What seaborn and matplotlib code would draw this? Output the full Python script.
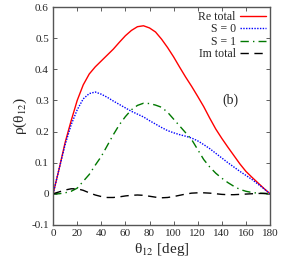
import numpy as np
import pandas as pd
import seaborn as sns
import matplotlib.pyplot as plt

theta = list(range(0, 181, 5))
re_total = [0, 0.08, 0.165, 0.235, 0.30, 0.35, 0.385, 0.408, 0.427, 0.446, 0.465, 0.487,
            0.508, 0.525, 0.537, 0.54, 0.533, 0.52, 0.497, 0.47, 0.44, 0.407, 0.375,
            0.345, 0.313, 0.28, 0.243, 0.208, 0.178, 0.15, 0.123, 0.096, 0.072, 0.053,
            0.035, 0.017, 0]
s0 = [0, 0.08, 0.158, 0.222, 0.27, 0.305, 0.322, 0.327, 0.32, 0.31, 0.298, 0.287,
      0.276, 0.265, 0.256, 0.247, 0.235, 0.224, 0.213, 0.203, 0.196, 0.19, 0.185,
      0.179, 0.17, 0.158, 0.145, 0.13, 0.115, 0.1, 0.086, 0.072, 0.059, 0.046,
      0.031, 0.016, 0]
s1 = [0, 0.0, 0.003, 0.008, 0.018, 0.04, 0.062, 0.092, 0.12, 0.155, 0.19, 0.222,
      0.248, 0.27, 0.284, 0.291, 0.29, 0.285, 0.278, 0.262, 0.24, 0.218, 0.196,
      0.174, 0.142, 0.11, 0.086, 0.066, 0.05, 0.036, 0.024, 0.014, 0.008, 0.004,
      0.002, 0.001, 0]
im_total = [0, 0.006, 0.012, 0.016, 0.016, 0.011, 0.003, -0.004, -0.009, -0.012, -0.012,
            -0.01, -0.007, -0.005, -0.004, -0.005, -0.008, -0.011, -0.013, -0.012,
            -0.009, -0.005, -0.001, 0.002, 0.003, 0.003, 0.002, 0.0, -0.002, -0.003,
            -0.003, -0.002, -0.001, 0.0, 0.001, 0.001, 0]

labels = ["Re total", "S = 0", "S = 1", "Im total"]
colors = ["#ff0000", "#0000ff", "#007800", "#000000"]
styles = ["-", (0, (1, 1)), (0, (6, 3, 1, 3)), (0, (6, 4))]

df = pd.DataFrame({"theta": theta, "Re total": re_total, "S = 0": s0,
                   "S = 1": s1, "Im total": im_total})
long = df.melt(id_vars="theta", var_name="series", value_name="rho")

sns.set_theme(style="ticks")
plt.rcParams["font.family"] = ["Liberation Serif", "DejaVu Serif"]
plt.rcParams["mathtext.fontset"] = "stix"

fig = plt.figure(figsize=(3.0, 2.63), dpi=100)
ax = fig.add_axes([0.177, 0.145, 0.723, 0.828])

for lab, col, ls in zip(labels, colors, styles):
    sub = long[long["series"] == lab]
    sns.lineplot(x="theta", y="rho", data=sub, ax=ax, color=col, linestyle=ls,
                 linewidth=1.0, label=lab)

ax.set_xlim(0, 180)
ax.set_ylim(-0.1, 0.6)
ax.set_xticks(np.arange(0, 181, 20))
ax.set_yticks([-0.1, 0, 0.1, 0.2, 0.3, 0.4, 0.5, 0.6])
ax.set_yticklabels(["-0.1", "0", "0.1", "0.2", "0.3", "0.4", "0.5", "0.6"])
ax.tick_params(direction="in", top=True, right=True, labelsize=8, length=3,
               width=0.6, color="#444444", pad=3)
for sp in ax.spines.values():
    sp.set_color("#555555")
    sp.set_linewidth(1.0)

ax.set_xlabel("θ$_{12}$ [deg]", fontsize=11, labelpad=2)
ax.set_ylabel("ρ(θ$_{12}$)", fontsize=11, labelpad=2)
ax.text(147, 0.3, "(b)", fontsize=10, ha="center", va="center")

ax.legend(loc="upper right", frameon=False, markerfirst=False, fontsize=8.5,
          handlelength=2.2, handletextpad=0.4, labelspacing=0.05,
          borderaxespad=0.1, borderpad=0.2)

plt.savefig("out.png", dpi=100)
plt.close()
